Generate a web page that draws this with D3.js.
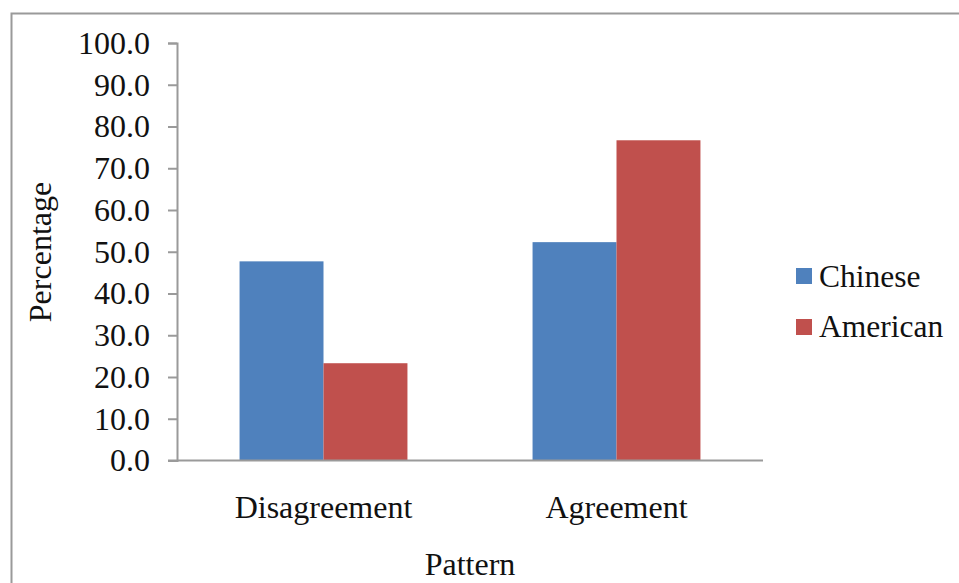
<!DOCTYPE html>
<html>
<head>
<meta charset="utf-8">
<script src="https://cdn.jsdelivr.net/npm/d3@7"></script>
<style>
  html, body { margin: 0; padding: 0; background: #fff; }
  svg text { font-family: "Liberation Serif", "Times New Roman", serif; fill: #111; }
</style>
</head>
<body>
<svg id="chart" width="959" height="583"></svg>
<script>
// Response pattern by group (percent)
const categories = ["Disagreement", "Agreement"];
const seriesNames = ["Chinese", "American"];
const chinese = [47.7, 52.3];
const american = [23.3, 76.7];
const yTicks = [0, 10, 20, 30, 40, 50, 60, 70, 80, 90, 100];
const seriesColors = ["#4F81BD", "#C0504D"];

const values = [chinese, american];
const svg = d3.select("#chart");
const FONT = "'Liberation Serif', 'Times New Roman', serif";

// Outer frame
svg.append("rect")
  .attr("x", 11.5).attr("y", 13.5)
  .attr("width", 960).attr("height", 600)
  .attr("fill", "none").attr("stroke", "#9a9a9a").attr("stroke-width", 2);

const plot = { left: 177, right: 763, top: 43, bottom: 460.5 };

const x = d3.scaleBand().domain(categories)
  .range([plot.left, plot.right]).paddingInner(0.427).paddingOuter(0.2135);
const xs = d3.scaleBand().domain(seriesNames).range([0, x.bandwidth()]);
const y = d3.scaleLinear().domain([0, 100]).range([plot.bottom, plot.top]);

// Bars
categories.forEach((c, ci) => {
  seriesNames.forEach((s, si) => {
    svg.append("rect")
      .attr("x", x(c) + xs(s))
      .attr("y", y(values[si][ci]))
      .attr("width", xs.bandwidth())
      .attr("height", y(0) - y(values[si][ci]))
      .attr("fill", seriesColors[si]);
  });
});

// Y axis
const yAxis = svg.append("g")
  .attr("transform", `translate(${plot.left},0)`)
  .call(d3.axisLeft(y).tickValues(yTicks).tickFormat(d3.format(".1f")).tickSize(9).tickPadding(18));
yAxis.attr("font-family", null).attr("font-size", null);
yAxis.select(".domain").attr("stroke", "#9a9a9a").attr("stroke-width", 2);
yAxis.selectAll(".tick line").attr("stroke", "#9a9a9a").attr("stroke-width", 2);
yAxis.selectAll(".tick text")
  .style("font-family", FONT)
  .style("font-size", "32px").attr("fill", "#111");

// X axis baseline
svg.append("line")
  .attr("x1", 168).attr("x2", plot.right)
  .attr("y1", y(0)).attr("y2", y(0))
  .attr("stroke", "#9a9a9a").attr("stroke-width", 2);

// Category labels
svg.selectAll(".cat").data(categories).enter().append("text")
  .attr("x", d => x(d) + x.bandwidth() / 2)
  .attr("y", 518)
  .attr("text-anchor", "middle")
  .style("font-size", "32px")
  .text(d => d);

// Axis titles
svg.append("text")
  .attr("x", 470).attr("y", 575)
  .attr("text-anchor", "middle")
  .style("font-size", "32px")
  .text("Pattern");

svg.append("text")
  .attr("transform", "translate(51,252) rotate(-90)")
  .attr("text-anchor", "middle")
  .style("font-size", "32px")
  .text("Percentage");

// Legend
const legend = svg.append("g");
seriesNames.forEach((s, i) => {
  legend.append("rect")
    .attr("x", 796).attr("y", 268 + i * 51)
    .attr("width", 16).attr("height", 16)
    .attr("fill", seriesColors[i]);
  legend.append("text")
    .attr("x", 819).attr("y", 287 + i * 50)
    .style("font-size", "31.5px")
    .text(s);
});
</script>
</body>
</html>
